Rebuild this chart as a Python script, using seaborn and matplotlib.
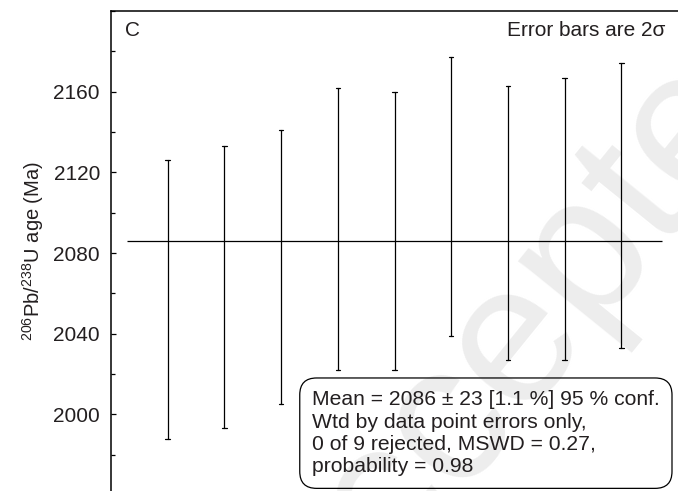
import matplotlib
matplotlib.use("Agg")
import matplotlib.pyplot as plt
from matplotlib.ticker import MultipleLocator
import numpy as np
import pandas as pd
import seaborn as sns

# 206Pb/238U ages of the analysed spots and their 2-sigma errors (Ma)
spots = ["1", "2", "3", "4", "5", "6", "7", "8", "9"]
ages = [2057, 2063, 2073, 2092, 2091, 2108, 2095, 2097, 2103.5]
err2s = [69, 70, 68, 70, 69, 69, 68, 70, 70.5]

weighted_mean = 2086
summary_lines = [
    "Mean = 2086 \u00b1 23 [1.1 %] 95 % conf.",
    "Wtd by data point errors only,",
    "0 of 9 rejected, MSWD = 0.27,",
    "probability = 0.98",
]
y_ticks = [2000, 2040, 2080, 2120, 2160]

sns.set_theme(style="ticks")
plt.rcParams["font.family"] = ["Liberation Sans", "DejaVu Sans"]
plt.rcParams["mathtext.fontset"] = "custom"
plt.rcParams["mathtext.rm"] = "Liberation Sans"
plt.rcParams["mathtext.it"] = "Liberation Sans:italic"
ink = "#231f20"

# each spot becomes two rows (lower and upper bound) so the interval spans the error
df = pd.DataFrame({
    "spot": np.repeat(spots, 2),
    "age": np.ravel([[a - e, a + e] for a, e in zip(ages, err2s)]),
})

fig = plt.figure(figsize=(6.78, 4.91), dpi=100)
ax = fig.add_axes([111 / 678, 0.0, 567 / 678, 480 / 491])

# faint watermark behind the plot
fig.text(0.848, 0.271, "Accepted", rotation=51, fontsize=143, color="#ededed",
         ha="center", va="baseline", rotation_mode="anchor", zorder=-1)
ax.set_facecolor("none")

sns.pointplot(
    data=df, x="spot", y="age", ax=ax,
    estimator="mean", errorbar=lambda v: (v.min(), v.max()),
    capsize=0.08, marker="", linestyle="none",
    err_kws={"color": "black", "linewidth": 0.9},
    color="black",
)

ax.hlines(weighted_mean, -0.72, 8.72, color="black", linewidth=0.9, zorder=3)

ax.set_xlim(-1, 9)
ax.set_ylim(1962, 2200)
ax.set_xticks([])
ax.set_xlabel("")
ax.set_yticks(y_ticks)
ax.yaxis.set_minor_locator(MultipleLocator(20))
ax.tick_params(axis="y", which="major", direction="in", length=3.6, width=0.9,
               pad=8, labelsize=15, labelcolor=ink, color="black")
ax.tick_params(axis="y", which="minor", direction="in", length=3.0, width=0.9,
               color="black")

for side in ("right", "bottom"):
    ax.spines[side].set_visible(False)
for side in ("left", "top"):
    ax.spines[side].set_linewidth(1.1)
    ax.spines[side].set_color("black")

ax.set_ylabel(r"$^{206}$Pb/$^{238}$U age (Ma)", fontsize=14.5, color=ink, labelpad=5)

ax.text(0.025, 0.96, "C", transform=ax.transAxes, fontsize=15, color=ink,
        ha="left", va="center")
ax.text(0.977, 0.96, "Error bars are 2\u03c3", transform=ax.transAxes, fontsize=15,
        color=ink, ha="right", va="center")

ax.text(0.3545, 0.031, "\n".join(summary_lines), transform=ax.transAxes,
        fontsize=15.2, color=ink, ha="left", va="bottom", linespacing=1.22,
        bbox=dict(boxstyle="round,pad=0.58,rounding_size=0.8",
                  facecolor="none", edgecolor="black", linewidth=0.9),
        zorder=5)

fig.savefig("out.png", dpi=100)
